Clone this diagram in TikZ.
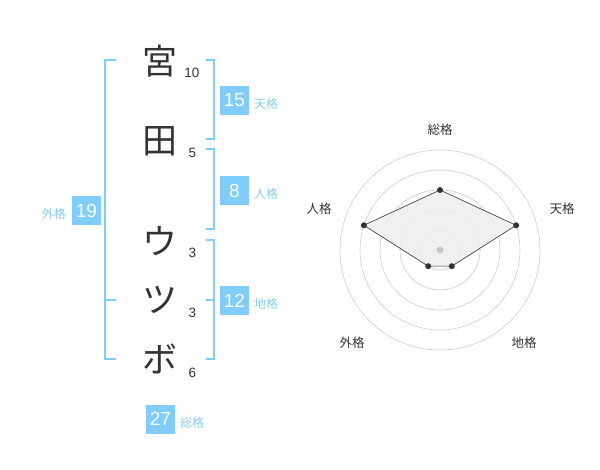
\documentclass[tikz,border=0pt]{standalone}
\usepackage{fontspec}
\setmainfont{Liberation Sans}
\newfontfamily\cjk{Noto Sans CJK JP}
\definecolor{boxblue}{HTML}{80CCFA}
\definecolor{lblblue}{HTML}{86CBF3}
\definecolor{ink}{HTML}{333333}
\definecolor{ring}{HTML}{CCCCCC}
\begin{document}
\begin{tikzpicture}[x=1pt,y=-1pt,
  charnode/.style={font=\cjk\fontsize{35}{35}\selectfont, text=ink, inner sep=0pt},
  numnode/.style={font=\fontsize{13.5}{13.5}\selectfont, text=ink, inner sep=0pt},
  scorebox/.style={fill=boxblue, text=white, minimum width=29pt, minimum height=29pt, inner sep=0pt, font=\fontsize{19}{19}\selectfont},
  scorelbl/.style={font=\cjk\fontsize{12}{12}\selectfont, text=lblblue, inner sep=0pt, anchor=west},
  bracket/.style={draw=boxblue, line width=1.6pt},
  radlbl/.style={font=\cjk\fontsize{12.5}{12.5}\selectfont, text=ink, inner sep=0pt},
  vdot/.style={circle, fill=ink, inner sep=0pt, minimum size=6pt}]
\useasboundingbox (0,0) rectangle (600,470);
% characters
\node[charnode] (c1) at (160,61) {宮};
\node[charnode] (c2) at (160,141) {田};
\node[charnode] (c3) at (160,241) {ウ};
\node[charnode] (c4) at (160,300) {ツ};
\node[charnode] (c5) at (160,359) {ボ};
% stroke counts
\node[numnode] (n1) at (192,73) {10};
\node[numnode] (n2) at (192.5,153) {5};
\node[numnode] (n3) at (192.5,253) {3};
\node[numnode] (n4) at (192.5,313) {3};
\node[numnode] (n5) at (192.5,373) {6};
% brackets right
\draw[bracket] (206,60) -- (214,60) -- (214,139) -- (206,139);
\draw[bracket] (206,149) -- (214,149) -- (214,229) -- (206,229);
\draw[bracket] (206,240) -- (214,240) -- (214,359) -- (206,359);
\draw[bracket] (206,300) -- (214,300);
% bracket left
\draw[bracket] (116,60) -- (105,60) -- (105,359) -- (116,359);
\draw[bracket] (105,300) -- (116,300);
% score boxes
\node[scorebox] (b1) at (234.5,100.5) {15};
\node[scorelbl] (l1) at (254,103.5) {天格};
\node[scorebox] (b2) at (234.5,190.5) {8};
\node[scorelbl] (l2) at (254,193.5) {人格};
\node[scorebox] (b3) at (234.5,300.5) {12};
\node[scorelbl] (l3) at (254,303.5) {地格};
\node[scorebox] (b4) at (86.5,210.5) {19};
\node[scorelbl, anchor=east] (l4) at (66,213.5) {外格};
\node[scorebox] (b5) at (160.5,419) {27};
\node[scorelbl] (l5) at (180,422.5) {総格};
% radar
\coordinate (ctr) at (440,250);
\foreach \r in {20,40,60,80,100}{
  \draw[ring, line width=0.6pt] (ctr) circle[radius=\r];
}
\path (ctr) ++(0,-60) coordinate (pS);
\path (ctr) ++(76.1,-24.7) coordinate (pT);
\path (ctr) ++(11.8,16.2) coordinate (pC);
\path (ctr) ++(-11.8,16.2) coordinate (pG);
\path (ctr) ++(-76.1,-24.7) coordinate (pJ);
\fill[black!7, opacity=0.85] (pS) -- (pT) -- (pC) -- (pG) -- (pJ) -- cycle;
\draw[ink, line width=0.6pt] (pS) -- (pT) -- (pC) -- (pG) -- (pJ) -- cycle;
\fill[black!22] (ctr) circle[radius=3.5];
\foreach \p in {pS,pT,pC,pG,pJ}{ \node[vdot] at (\p) {}; }
\node[radlbl] (rS) at (440,130) {総格};
\node[radlbl] (rT) at (562,208.5) {天格};
\node[radlbl] (rC) at (524,342.5) {地格};
\node[radlbl] (rG) at (352,342.5) {外格};
\node[radlbl] (rJ) at (319,208.5) {人格};
\end{tikzpicture}
\end{document}
